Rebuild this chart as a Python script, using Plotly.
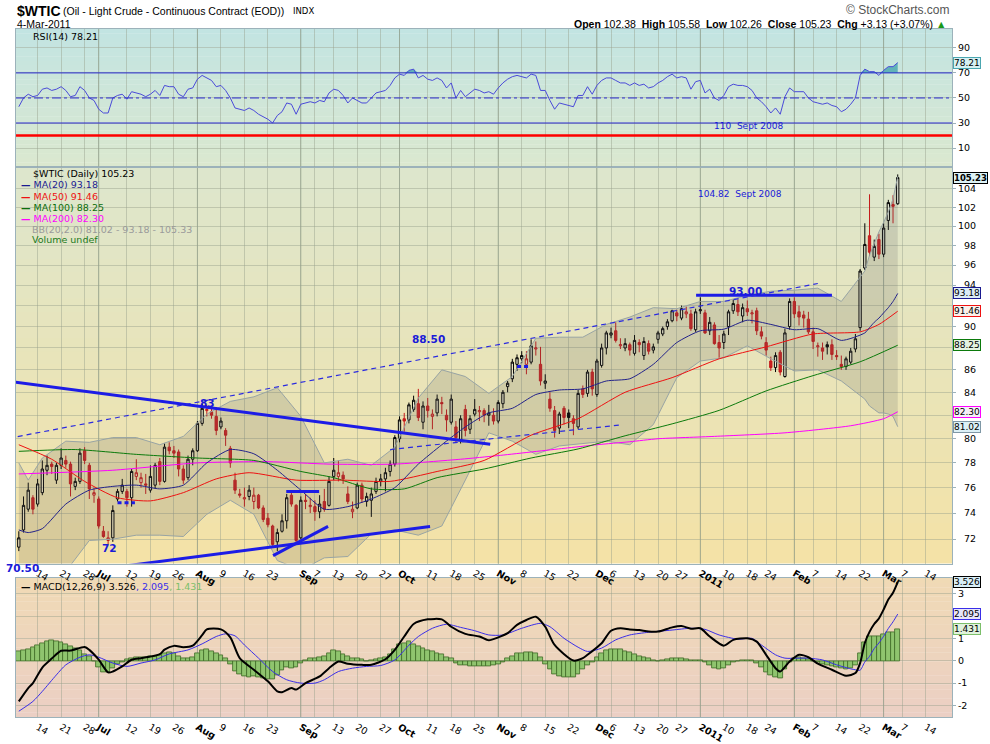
import math

import pandas as pd
import plotly.graph_objects as go

# ---- values -----------------------------------------------------------------
holidays = ["2010-07-05", "2010-09-06", "2010-11-25", "2010-12-24", "2011-01-17", "2011-02-21"]

opn = [71.4, 72.7, 74.3, 75.2, 74.7, 75.6, 77.4, 77.9, 76.6, 77.8,
       78.2, 77.9, 76.1, 76.5, 79.0, 77.8, 75.4, 75.1, 72.6, 71.9,
       72.1, 75.1, 75.7, 75.7, 75.2, 76.9, 76.4, 76.3, 75.8, 76.2,
       78.1, 76.5, 79.3, 79.0, 78.9, 77.5, 76.8, 78.3, 79.0, 81.3,
       82.4, 82.3, 81.9, 81.0, 80.7, 79.2, 76.6, 75.5, 75.1, 75.3,
       74.9, 75.4, 74.4, 73.6, 73.0, 71.8, 72.6, 73.4, 75.4, 74.6,
       72.1, 75.0, 74.5, 74.5, 74.1, 74.9, 74.6, 76.9, 76.9, 77.0,
       75.5, 74.1, 74.4, 76.2, 74.9, 75.0, 75.7, 76.5, 76.7, 77.3,
       77.9, 80.0, 81.7, 81.6, 82.5, 83.0, 81.4, 82.8, 81.9, 82.2,
       83.1, 82.0, 81.4, 81.0, 79.9, 82.5, 80.8, 82.1, 82.3, 82.4,
       82.0, 82.0, 81.5, 83.0, 84.5, 85.2, 86.5, 87.0, 86.5, 86.7,
       87.9, 86.5, 84.8, 83.4, 82.4, 80.9, 82.6, 82.2, 81.7, 81.0,
       84.3, 83.9, 85.8, 83.8, 86.4, 88.0, 89.2, 89.6, 88.2, 88.0,
       88.3, 87.5, 88.5, 87.3, 88.4, 87.8, 88.8, 89.3, 90.0, 90.55,
       91.3, 90.8, 91.2, 91.2, 89.7, 91.5, 91.3, 89.6, 90.15, 88.5,
       88.5, 90.0, 91.5, 92.1, 91.0, 91.7, 91.2, 91.5, 89.5, 88.5,
       86.8, 86.2, 87.6, 85.4, 90.0, 92.4, 91.4, 91.1, 90.7, 89.5,
       88.1, 88.0, 88.3, 88.3, 87.3, 86.5, 86.3, 86.7, 87.9, 89.9,
       95.7, 99.0, 96.8, 98.6, 97.1, 100.6, 102.3, 102.38]
high = [72.6, 75.3, 76.4, 75.4, 76.7, 78.2, 78.6, 78.1, 78.0, 79.2,
        78.6, 78.1, 76.8, 79.2, 79.3, 78.0, 76.0, 75.3, 73.0, 72.6,
        74.6, 75.9, 76.7, 75.9, 77.5, 78.3, 77.2, 77.1, 77.8, 78.0,
        78.4, 79.6, 79.7, 79.4, 79.1, 77.8, 78.6, 79.2, 81.5, 83.0,
        82.9, 82.6, 82.7, 81.8, 80.9, 79.4, 77.2, 75.9, 76.0, 76.2,
        76.0, 75.5, 74.6, 74.0, 73.1, 72.8, 73.9, 75.5, 75.6, 74.7,
        75.3, 75.5, 75.2, 75.0, 75.4, 75.9, 76.9, 78.4, 78.2, 77.3,
        76.1, 74.9, 76.4, 76.4, 75.6, 76.0, 76.8, 77.1, 77.6, 78.2,
        80.3, 81.9, 82.2, 83.1, 83.7, 84.3, 83.2, 83.5, 82.5, 83.8,
        83.6, 82.5, 83.8, 81.5, 82.0, 82.9, 82.0, 83.4, 82.8, 82.6,
        82.9, 82.6, 83.3, 84.2, 85.0, 87.0, 87.4, 87.7, 87.7, 88.8,
        88.6, 88.1, 85.6, 84.0, 82.8, 82.3, 82.8, 82.5, 82.0, 84.2,
        84.6, 86.0, 86.1, 87.0, 88.4, 89.6, 89.9, 90.4, 88.9, 88.9,
        88.5, 89.2, 88.8, 89.0, 88.7, 88.4, 89.6, 90.0, 90.7, 91.6,
        91.6, 92.0, 91.9, 91.6, 91.7, 92.8, 91.6, 90.9, 90.4, 89.2,
        89.6, 91.6, 92.6, 92.6, 92.2, 92.5, 91.6, 91.8, 90.0, 89.0,
        87.2, 87.6, 87.8, 89.8, 92.7, 92.8, 92.0, 91.5, 91.4, 89.9,
        88.5, 88.5, 88.6, 88.8, 87.8, 87.3, 87.2, 88.0, 89.3, 95.6,
        100.3, 103.4, 98.6, 99.2, 100.3, 102.8, 103.3, 105.58]
low = [71.1, 72.5, 74.1, 73.9, 74.5, 75.4, 77.0, 77.1, 76.3, 77.5,
       77.6, 75.3, 75.8, 76.3, 77.9, 75.1, 74.8, 72.8, 72.1, 71.6,
       71.8, 74.9, 75.5, 74.5, 74.5, 76.6, 76.0, 75.5, 75.6, 75.9,
       76.2, 76.4, 78.7, 78.4, 76.9, 76.3, 76.6, 77.8, 78.9, 81.1,
       81.9, 81.7, 80.3, 80.8, 79.4, 77.6, 75.5, 75.2, 74.5, 75.0,
       74.3, 74.3, 73.3, 72.9, 71.5, 71.1, 72.5, 72.8, 74.5, 71.6,
       72.0, 74.3, 74.0, 73.4, 73.6, 74.1, 74.5, 76.6, 76.5, 76.3,
       74.7, 73.6, 74.3, 74.8, 74.5, 73.7, 75.5, 76.1, 75.7, 76.9,
       77.7, 79.7, 80.6, 81.3, 82.3, 81.5, 80.8, 81.8, 80.8, 81.9,
       82.1, 80.6, 81.2, 79.7, 79.6, 80.2, 80.4, 81.9, 81.5, 81.4,
       81.1, 81.2, 81.3, 82.6, 84.0, 84.9, 85.9, 86.6, 85.6, 86.5,
       87.3, 84.6, 84.3, 82.3, 80.1, 80.4, 81.2, 80.9, 80.3, 80.8,
       83.5, 83.6, 83.7, 83.6, 86.2, 87.4, 88.9, 88.5, 87.9, 87.7,
       87.3, 87.3, 87.6, 86.9, 87.4, 87.5, 88.4, 89.1, 89.7, 90.4,
       90.5, 90.6, 90.8, 89.6, 89.5, 91.2, 89.3, 89.2, 88.3, 87.1,
       87.9, 89.2, 91.2, 91.0, 90.4, 91.0, 90.3, 89.2, 88.8, 87.3,
       85.9, 85.8, 85.5, 85.3, 89.7, 90.8, 90.1, 89.9, 89.3, 87.9,
       87.2, 86.9, 87.4, 86.9, 86.9, 86.0, 86.0, 86.5, 87.6, 89.6,
       95.5, 96.9, 96.4, 96.6, 96.8, 99.6, 100.3, 102.26]
close = [72.1, 74.6, 75.8, 74.3, 76.3, 77.5, 77.8, 77.7, 77.8, 78.4,
         77.9, 76.3, 76.5, 78.8, 78.2, 75.9, 75.6, 73.0, 72.2, 72.1,
         74.2, 75.7, 76.2, 75.2, 77.3, 77.2, 76.8, 76.2, 76.9, 77.8,
         76.5, 79.3, 79.0, 78.8, 77.5, 76.6, 78.3, 79.0, 81.3, 82.6,
         82.5, 82.0, 80.7, 81.5, 80.3, 78.0, 75.8, 75.4, 75.2, 75.8,
         75.4, 74.4, 73.5, 73.1, 71.6, 72.5, 73.4, 75.2, 74.7, 71.9,
         75.0, 74.9, 74.6, 74.1, 74.7, 74.3, 76.5, 77.4, 77.2, 76.7,
         74.9, 74.3, 76.2, 75.1, 75.3, 75.5, 76.5, 76.7, 77.2, 77.9,
         80.1, 81.6, 81.5, 82.9, 83.3, 81.8, 82.8, 82.4, 82.1, 83.4,
         83.0, 81.6, 83.4, 80.1, 81.7, 80.7, 81.7, 82.5, 82.4, 82.0,
         82.2, 81.5, 83.1, 84.0, 84.8, 86.7, 87.1, 87.3, 87.0, 88.2,
         88.0, 85.0, 85.0, 82.6, 80.7, 82.1, 81.8, 81.8, 81.3, 83.9,
         83.8, 85.8, 84.3, 86.8, 88.0, 89.4, 89.4, 88.7, 88.3, 88.4,
         87.8, 88.7, 88.3, 88.6, 87.7, 88.1, 89.4, 89.8, 90.45, 91.5,
         91.0, 91.7, 91.4, 89.8, 91.4, 91.6, 89.4, 90.4, 88.4, 88.0,
         89.3, 91.4, 92.2, 91.4, 91.8, 91.4, 91.3, 89.6, 89.1, 87.8,
         86.2, 87.3, 85.8, 89.4, 92.4, 91.2, 90.9, 90.8, 89.5, 88.6,
         88.2, 87.7, 88.1, 87.4, 87.2, 86.3, 87.0, 87.7, 88.85, 95.4,
         98.1, 97.3, 97.9, 97.1, 99.8, 102.5, 102.1, 105.23]

# moving averages / Bollinger bands, sampled along the chart (day index -> value)
bb_i = [0, 2, 5, 10, 15, 20, 25, 30, 35, 40, 45, 50, 55, 60, 65, 70, 75, 80, 85, 90, 95, 100,
        105, 110, 115, 120, 125, 130, 135, 140, 145, 150, 155, 160, 165, 170, 175, 180, 181,
        182, 183, 184, 185, 186, 187]
ma20 = [72.7, 72.5, 72.8, 74.7, 75.8, 76.1, 76.2, 75.9, 76.2, 78.0, 79.1, 78.75, 77.4, 75.8,
        74.3, 74.5, 75.1, 76.0, 77.9, 79.5, 81.0, 82.2, 82.6, 83.8, 84.2, 84.3, 85.0, 85.2,
        86.5, 88.5, 89.6, 89.75, 90.6, 90.2, 89.7, 89.8, 88.7, 89.4, 89.9, 90.4, 90.8, 91.3,
        91.8, 92.4, 93.18]
bb_up = [78.0, 76.6, 78.4, 79.8, 79.7, 80.1, 80.1, 79.5, 80.2, 82.1, 83.2, 83.6, 84.4, 81.9,
         78.0, 78.3, 77.8, 79.3, 83.5, 86.0, 85.4, 83.9, 85.4, 88.9, 89.0, 89.0, 90.2, 90.9,
         91.8, 91.7, 92.4, 92.4, 93.0, 93.4, 93.5, 93.7, 92.4, 95.4, 97.0, 98.3, 99.4, 100.4,
         101.5, 102.9, 105.33]
bb_lo = [67.4, 68.4, 67.2, 69.6, 71.9, 72.0, 72.3, 72.3, 72.2, 73.9, 75.0, 73.9, 70.4, 69.7,
         70.6, 70.7, 72.4, 72.7, 72.3, 73.0, 76.6, 80.5, 79.8, 78.7, 79.4, 79.6, 79.8, 79.5,
         81.2, 85.3, 86.8, 87.1, 88.2, 87.0, 85.9, 86.0, 85.0, 83.4, 82.8, 82.5, 82.2, 82.2,
         82.1, 81.9, 81.02]
ma50_i = [0, 7, 14, 21, 28, 35, 42, 49, 59, 69, 79, 89, 99, 109, 119, 129, 139, 149, 159, 169,
          179, 183, 187]
ma50 = [79.5, 78.3, 76.5, 75.2, 74.95, 75.6, 76.7, 77.2, 76.6, 76.6, 76.5, 77.3, 78.2, 80.3,
        81.7, 84.0, 85.3, 87.0, 88.1, 89.3, 89.5, 90.2, 91.46]
ma100_i = [0, 12, 25, 38, 50, 60, 67, 75, 82, 89, 99, 109, 119, 129, 139, 149, 159, 169, 179, 187]
ma100 = [78.95, 79.1, 78.7, 78.4, 78.2, 77.3, 76.8, 75.9, 75.9, 76.8, 77.5, 78.4, 79.15, 80.25,
         81.26, 82.42, 84.12, 85.48, 86.73, 88.25]
ma200_i = [0, 20, 38, 53, 66, 80, 94, 102, 116, 123, 130, 136, 148, 163, 177, 184, 187]
ma200 = [77.1, 77.4, 78.0, 78.1, 77.9, 77.9, 78.3, 78.6, 79.2, 79.5, 79.75, 80.0, 80.2, 80.5,
         81.1, 81.7, 82.3]

rsi = [43, 50, 53, 51, 52, 57, 58, 56, 57, 59,
       56, 51, 52, 59, 56, 50, 48, 41, 38, 38,
       50, 52, 53, 49, 55, 54, 53, 51, 53, 56,
       52, 60, 59, 59, 53, 51, 57, 58, 65, 68,
       66, 64, 59, 60, 56, 50, 42, 41, 40, 42,
       40, 37, 35, 33, 30, 36, 39, 46, 45, 37,
       45, 46, 47, 46, 48, 47, 54, 57, 56, 52,
       46, 50, 48, 46, 46, 50, 54, 55, 56, 60,
       66, 69, 68, 72, 73, 66, 68, 65, 64, 66,
       64, 58, 62, 50, 56, 51, 54, 57, 56, 54,
       55, 53, 58, 62, 65, 67, 68, 67, 66, 69,
       68, 56, 56, 48, 41, 46, 45, 44, 43, 52,
       52, 59, 53, 60, 64, 66, 66, 64, 62, 62,
       60, 62, 60, 61, 58, 59, 62, 64, 67, 69,
       66, 67, 66, 57, 63, 64, 54, 57, 50, 48,
       52, 59, 61, 60, 60, 59, 56, 50, 47, 43,
       38, 42, 37, 51, 58, 55, 55, 55, 50, 47,
       46, 45, 46, 44, 43, 39, 41, 45, 50, 68,
       73, 71, 71, 68, 72, 75, 75, 78.21]

macd_i = [0, 2, 3, 5, 7, 9, 11, 14, 15, 17, 19, 20, 22, 24, 26, 28, 30, 31, 33, 35, 37, 39, 40,
          43, 45, 47, 50, 53, 55, 56, 58, 59, 61, 64, 66, 68, 70, 73, 75, 78, 80, 82, 84, 87, 90,
          91, 92, 95, 98, 100, 102, 104, 106, 108, 110, 112, 114, 118, 120, 121, 124, 126, 128,
          130, 132, 134, 136, 139, 141, 143, 145, 147, 150, 152, 155, 157, 159, 161, 162, 164,
          166, 168, 170, 173, 176, 178, 179, 180, 181, 182, 183, 184, 185, 186, 187]
macd = [-1.82, -1.22, -1.0, -0.3, 0.1, 0.45, 0.46, 0.62, 0.49, 0.05, -0.52, -0.48, -0.25, 0.05,
        0.12, 0.19, 0.3, 0.5, 0.67, 0.61, 0.68, 1.15, 1.41, 1.41, 1.05, 0.12, -0.4, -0.92, -1.37,
        -1.41, -1.22, -1.29, -1.0, -0.7, -0.33, -0.03, -0.13, -0.18, -0.18, 0.07, 0.49, 1.09,
        1.65, 1.86, 1.86, 1.71, 1.53, 1.21, 1.09, 0.92, 1.05, 1.24, 1.61, 1.83, 1.98, 1.53, 0.71,
        0.01, 0.12, 0.27, 0.79, 1.35, 1.46, 1.41, 1.38, 1.31, 1.31, 1.50, 1.56, 1.44, 1.46, 1.09,
        0.68, 0.94, 1.01, 0.86, 0.27, -0.33, -0.48, -0.03, 0.27, 0.16, -0.13, -0.40, -0.67,
        -0.55, -0.1, 0.8, 1.3, 1.65, 1.9, 2.3, 2.75, 3.05, 3.526]
sig_i = [0, 3, 5, 8, 10, 13, 15, 17, 20, 23, 26, 29, 32, 36, 39, 42, 44, 46, 48, 51, 54, 57, 60,
         63, 65, 68, 71, 74, 77, 80, 83, 85, 88, 91, 94, 97, 100, 103, 107, 111, 113, 116, 119,
         121, 124, 127, 130, 134, 139, 143, 146, 149, 153, 156, 158, 161, 163, 166, 168, 171,
         174, 177, 178, 179, 180, 181, 182, 183, 184, 185, 186, 187]
signal = [-2.26, -1.82, -1.37, -0.63, -0.18, 0.16, 0.27, 0.16, -0.1, -0.25, -0.1, 0.04, 0.31,
          0.49, 0.76, 1.09, 1.21, 1.12, 0.71, 0.12, -0.48, -0.85, -1.0, -1.0, -0.85, -0.48, -0.33,
          -0.25, -0.21, 0.04, 0.7, 1.09, 1.46, 1.64, 1.5, 1.35, 1.16, 1.16, 1.46, 1.68, 1.53,
          1.01, 0.61, 0.42, 0.57, 0.94, 1.16, 1.28, 1.38, 1.46, 1.41, 1.16, 0.97, 1.01, 0.71,
          0.27, 0.12, 0.12, 0.12, 0.04, -0.18, -0.36, -0.40, -0.42, -0.05, 0.2, 0.55, 0.8, 1.1,
          1.45, 1.75, 2.095]
hist = [0.42, 0.45, 0.5, 0.6, 0.68, 0.8, 0.88, 0.9, 0.88, 0.85,
        0.75, 0.64, 0.55, 0.45, 0.3, 0.18, 0.0, -0.3, -0.52, -0.5,
        -0.35, -0.15, -0.05, 0.05, 0.12, 0.15, 0.15, 0.17, 0.18, 0.2,
        0.25, 0.32, 0.36, 0.35, 0.22, 0.12, 0.12, 0.15, 0.35, 0.48,
        0.5, 0.42, 0.32, 0.25, 0.1, -0.15, -0.45, -0.62, -0.7, -0.72,
        -0.7, -0.72, -0.78, -0.85, -0.85, -0.65, -0.42, -0.3, -0.32, -0.28,
        -0.12, 0.02, 0.1, 0.12, 0.15, 0.22, 0.35, 0.45, 0.42, 0.3,
        0.18, 0.12, 0.1, 0.05, 0.0, 0.02, 0.08, 0.12, 0.15, 0.3,
        0.5, 0.72, 0.8, 0.86, 0.75, 0.64, 0.55, 0.48, 0.42, 0.35,
        0.28, 0.15, 0.12, -0.12, -0.2, -0.22, -0.25, -0.25, -0.25, -0.26,
        -0.25, -0.22, -0.15, -0.05, 0.1, 0.22, 0.32, 0.35, 0.36, 0.36,
        0.35, 0.15, -0.15, -0.4, -0.6, -0.7, -0.75, -0.76, -0.74, -0.6,
        -0.4, -0.22, -0.05, 0.15, 0.32, 0.45, 0.5, 0.52, 0.5, 0.44,
        0.36, 0.28, 0.22, 0.16, 0.1, 0.04, 0.0, 0.02, 0.08, 0.12,
        0.12, 0.1, 0.06, 0.02, 0.02, 0.03, -0.08, -0.2, -0.32, -0.4,
        -0.32, -0.18, -0.08, 0.0, 0.03, 0.04, 0.02, -0.1, -0.3, -0.5,
        -0.65, -0.75, -0.78, -0.4, -0.05, 0.12, 0.15, 0.12, 0.05, -0.02,
        -0.08, -0.15, -0.2, -0.25, -0.3, -0.35, -0.38, -0.35, -0.2, 0.32,
        0.85, 1.1, 1.1, 1.1, 1.2, 1.3, 1.3, 1.431]

# trend lines drawn on the chart: (day index pair, price pair)
trend_thick = [([-4.0, 100.3], [85.07, 79.54]),
               ([-4.0, 87.5], [68.82, 72.97]),
               ([54.1, 65.8], [70.76, 72.97]),
               ([56.9, 63.9], [75.7, 75.7]),
               ([144.1, 173.0], [93.0, 93.0])]
trend_thick_dash = [([21.0, 24.7], [74.8, 74.8]),
                    ([106.0, 108.8], [86.3, 86.3])]
trend_thin_dash = [([-4.0, 170.0], [79.9, 94.16]),
                   ([79.0, 128.3], [79.1, 81.18])]
red_levels = [88.5, 104.82]

tick_dates = ["2010-06-14", "2010-06-21", "2010-06-28", "2010-07-01", "2010-07-12", "2010-07-19",
              "2010-07-26", "2010-08-02", "2010-08-09", "2010-08-16", "2010-08-23", "2010-09-01",
              "2010-09-07", "2010-09-13", "2010-09-20", "2010-09-27", "2010-10-01", "2010-10-11",
              "2010-10-18", "2010-10-25", "2010-11-01", "2010-11-08", "2010-11-15", "2010-11-22",
              "2010-12-01", "2010-12-06", "2010-12-13", "2010-12-20", "2010-12-27", "2011-01-03",
              "2011-01-10", "2011-01-18", "2011-01-24", "2011-02-01", "2011-02-07", "2011-02-14",
              "2011-02-22", "2011-03-01", "2011-03-07", "2011-03-14"]
tick_text = ["14", "21", "28", "Jul", "12", "19", "26", "Aug", "9", "16", "23", "Sep", "7", "13",
             "20", "27", "Oct", "11", "18", "25", "Nov", "8", "15", "22", "Dec", "6", "13", "20",
             "27", "2011", "10", "18", "24", "Feb", "7", "14", "22", "Mar", "7", "14"]
price_ticks = list(range(72, 106, 2))
price_hidden = [82, 88, 92]      # labels covered by the value tags
macd_ticks = [-2, -1, 0, 1, 2, 3]
macd_hidden = [2]

# ---- layout helpers ----------------------------------------------------------
FONT = "DejaVu Sans"
days = pd.bdate_range("2010-06-08", "2011-03-18")
days = days[~days.isin(pd.to_datetime(holidays))]
pos = {d: i for i, d in enumerate(days)}
n = len(close)
idx = list(range(n))
tick_pos = [pos[pd.Timestamp(d)] for d in tick_dates]
is_month = [not t.isdigit() or t == "2011" for t in tick_text]
tick_lbl = [f"<b>{t}</b>" if m else t for t, m in zip(tick_text, is_month)]
X_MIN, X_MAX = -0.6, 198.55
FW, FH = 990, 744


def px(x):
    return x / FW


def py(y):
    return 1 - y / FH


XD = [px(16), px(952)]
RSI_D = [py(170), py(29.5)]
PRICE_D = [py(572), py(170)]
MACD_D = [py(728), py(587)]

fig = go.Figure()


def gradient(xr, yr, top, bottom, steps=30):
    for k in range(steps):
        t = (k + 0.5) / steps
        c = [round(top[j] + (bottom[j] - top[j]) * t) for j in range(3)]
        fig.add_shape(type="rect", xref=xr, yref=yr, x0=0, x1=1,
                      y0=1 - (k + 1) / steps, y1=1 - k / steps + 0.002,
                      fillcolor=f"rgb({c[0]},{c[1]},{c[2]})", line_width=0, layer="below")


gradient("x3 domain", "y3 domain", (194, 228, 226), (219, 232, 207))
gradient("x2 domain", "y2 domain", (221, 230, 205), (244, 226, 166))
gradient("x domain", "y domain", (240, 218, 181), (235, 207, 196))

# darker month grid lines
for p, m in zip(tick_pos, is_month):
    if m:
        for xr, yr in (("x", "y domain"), ("x2", "y2 domain"), ("x3", "y3 domain")):
            fig.add_shape(type="line", xref=xr, yref=yr, x0=p, x1=p, y0=0, y1=1,
                          line=dict(color="rgba(120,140,120,0.55)", width=1), layer="below")

# ---- price panel -------------------------------------------------------------
fig.add_trace(go.Scatter(x=bb_i, y=bb_lo, mode="lines", xaxis="x2", yaxis="y2",
                         line=dict(color="#98a4a4", width=1), hoverinfo="skip"))
fig.add_trace(go.Scatter(x=bb_i, y=bb_up, mode="lines", xaxis="x2", yaxis="y2", fill="tonexty",
                         fillcolor="rgba(95,95,95,0.18)",
                         line=dict(color="#98a4a4", width=1), hoverinfo="skip"))
for xs, ys, col in ((ma200_i, ma200, "#ff00ff"), (ma100_i, ma100, "#0b7a0b"),
                    (ma50_i, ma50, "#ee1111"), (bb_i, ma20, "#22228a")):
    fig.add_trace(go.Scatter(x=xs, y=ys, mode="lines", xaxis="x2", yaxis="y2",
                             line=dict(color=col, width=1, shape="spline", smoothing=0.6),
                             hoverinfo="skip"))

black_i = [i for i in idx if i == 0 or close[i] >= close[i - 1]]
red_i = [i for i in idx if i > 0 and close[i] < close[i - 1]]
for sel, col, fill in ((black_i, "#000000", "#000000"), (red_i, "#c41a1a", "#cc2222")):
    fig.add_trace(go.Candlestick(
        x=sel, open=[opn[i] for i in sel], high=[high[i] for i in sel],
        low=[low[i] for i in sel], close=[close[i] for i in sel],
        xaxis="x2", yaxis="y2", whiskerwidth=0,
        increasing=dict(line=dict(color=col, width=1), fillcolor="rgba(255,255,255,0.35)"),
        decreasing=dict(line=dict(color=col, width=1), fillcolor=fill),
        hoverinfo="skip"))

for xs, ys in trend_thick:
    fig.add_trace(go.Scatter(x=xs, y=ys, mode="lines", xaxis="x2", yaxis="y2",
                             line=dict(color="#1c1ce6", width=3), hoverinfo="skip"))
for xs, ys in trend_thick_dash:
    fig.add_trace(go.Scatter(x=xs, y=ys, mode="lines", xaxis="x2", yaxis="y2",
                             line=dict(color="#1c1ce6", width=3, dash="4px,3px"), hoverinfo="skip"))
for xs, ys in trend_thin_dash:
    fig.add_trace(go.Scatter(x=xs, y=ys, mode="lines", xaxis="x2", yaxis="y2",
                             line=dict(color="#2a2ae0", width=1.2, dash="5px,4px"), hoverinfo="skip"))

for lv in red_levels:
    fig.add_shape(type="line", xref="x2 domain", yref="y2", x0=0, x1=1,
                  y0=math.log10(lv), y1=math.log10(lv), line=dict(color="#ff0000", width=2.5))
fig.add_shape(type="line", xref="x2", yref="y2", x0=124.7, x1=X_MAX,
              y0=math.log10(88.25), y1=math.log10(88.25), line=dict(color="#0a800a", width=2.5))
fig.add_shape(type="line", xref="x2", yref="y2", x0=idx[-1], x1=X_MAX,
              y0=math.log10(close[-1]), y1=math.log10(close[-1]),
              line=dict(color="#0a800a", width=2.5))

# ---- RSI panel ---------------------------------------------------------------
fig.add_trace(go.Scatter(x=idx, y=[70] * n, mode="lines", xaxis="x3", yaxis="y3",
                         line=dict(width=0), hoverinfo="skip"))
fig.add_trace(go.Scatter(x=idx, y=[max(v, 70) for v in rsi], mode="lines", xaxis="x3",
                         yaxis="y3", fill="tonexty", fillcolor="rgba(70,165,175,0.8)",
                         line=dict(width=0), hoverinfo="skip"))
for lv, dash in ((70, "solid"), (30, "solid"), (50, "dashdot")):
    fig.add_shape(type="line", xref="x3 domain", yref="y3", x0=0, x1=1, y0=lv, y1=lv,
                  line=dict(color="#2a2ad0", width=1, dash=dash))
fig.add_shape(type="line", xref="x3 domain", yref="y3", x0=0, x1=1, y0=20, y1=20,
              line=dict(color="#ff0000", width=2.5))
fig.add_trace(go.Scatter(x=idx, y=rsi, mode="lines", xaxis="x3", yaxis="y3",
                         line=dict(color="#4a4ad8", width=1), hoverinfo="skip"))

# ---- MACD panel --------------------------------------------------------------
fig.add_trace(go.Bar(x=idx, y=hist, width=1, xaxis="x", yaxis="y",
                     marker=dict(color="#8fc46e", line=dict(color="#3d6a26", width=0.8)),
                     hoverinfo="skip"))
fig.add_trace(go.Scatter(x=sig_i, y=signal, mode="lines", xaxis="x", yaxis="y",
                         line=dict(color="#3a2ee8", width=1, shape="spline", smoothing=0.7),
                         hoverinfo="skip"))
fig.add_trace(go.Scatter(x=macd_i, y=macd, mode="lines", xaxis="x", yaxis="y",
                         line=dict(color="#000000", width=2, shape="spline", smoothing=0.7),
                         hoverinfo="skip"))

# ---- axes --------------------------------------------------------------------
BORDER = "#9cb2ba"
GRID = "rgba(150,160,140,0.45)"
tickfont = dict(family=FONT, size=9.5, color="black")
xcommon = dict(range=[X_MIN, X_MAX], tickmode="array", tickvals=tick_pos, ticktext=tick_lbl,
               showgrid=True, gridcolor=GRID, gridwidth=1, showline=True, mirror=True,
               linecolor=BORDER, linewidth=1, ticks="", tickfont=tickfont, zeroline=False,
               rangeslider=dict(visible=False))
ycommon = dict(side="right", showgrid=True, gridcolor=GRID, showline=True, mirror=True,
               linecolor=BORDER, linewidth=1, ticks="outside", ticklen=3, tickcolor=BORDER,
               tickfont=tickfont, zeroline=False, fixedrange=True, tickmode="array")
# price labels are right-aligned in the reference: pad two-digit ones with a figure space
price_lbl = ["" if v in price_hidden else (str(v) if v >= 100 else "\u2007" + str(v))
             for v in price_ticks]
macd_lbl = ["" if v in macd_hidden else str(v) for v in macd_ticks]

fig.update_layout(
    width=FW, height=FH, margin=dict(l=0, r=0, t=0, b=0),
    paper_bgcolor="white", plot_bgcolor="rgba(0,0,0,0)",
    showlegend=False, hovermode=False, bargap=0, barmode="overlay",
    xaxis=dict(domain=XD, anchor="y", **xcommon),
    xaxis2=dict(domain=XD, anchor="y2", matches="x", **xcommon),
    xaxis3=dict(domain=XD, anchor="y3", matches="x", showticklabels=False,
                **{k: v for k, v in xcommon.items() if k != "tickfont"}),
    yaxis=dict(domain=MACD_D, anchor="x", range=[-2.53, 3.7], tickvals=macd_ticks,
               ticktext=macd_lbl, **ycommon),
    yaxis2=dict(domain=PRICE_D, anchor="x2", type="log",
                range=[math.log10(70.18), math.log10(106.35)],
                tickvals=price_ticks, ticktext=price_lbl, **ycommon),
    yaxis3=dict(domain=RSI_D, anchor="x3", range=[-5.5, 105], tickvals=[10, 30, 50, 70, 90],
                ticktext=["10", "30", "50", "70", "90"], **ycommon),
)

# ---- texts -------------------------------------------------------------------


def note(text, x, y, size=9.5, color="black", anchor="left", family=FONT):
    fig.add_annotation(xref="paper", yref="paper", x=px(x), y=py(y), text=text,
                       showarrow=False, xanchor=anchor, yanchor="middle",
                       font=dict(family=family, size=size, color=color))


note("<b>$WTIC</b>", 15, 11, size=14, family="Liberation Sans")
note("(Oil - Light Crude - Continuous Contract (EOD))", 61, 11, size=10.5,
     family="Liberation Sans")
note("INDX", 291, 11, size=8.5)
note("4-Mar-2011", 15, 24, size=10.5, family="Liberation Sans")
note("© StockCharts.com", 952, 10, size=12, color="#555555", anchor="right",
     family="Liberation Sans")
note("<b>Open</b> 102.38  <b>High</b> 105.58  <b>Low</b> 102.26  <b>Close</b> 105.23  "
     "<b>Chg</b> +3.13 (+3.07%) <span style='color:#1a9a1a'>▲</span>",
     948, 24, size=10.5, anchor="right", family="Liberation Sans")

note("RSI(14) 78.21", 31, 37)
note("$WTIC (Daily) 105.23", 31, 176.5)
legend = [("MA(20) 93.18", "#1a1a90", 187.7), ("MA(50) 91.46", "#ee1111", 199),
          ("MA(100) 88.25", "#0b6e0b", 210.2), ("MA(200) 82.30", "#ff00ff", 221.4)]
for txt, col, y in legend:
    note(f"<b>—</b> {txt}", 19, y, color=col)
note("BB(20,2.0) 81.02 - 93.18 - 105.33", 30, 232.8, color="#9a9a9a")
note("Volume undef", 30, 243.5, color="#1a7a1a")
note("<b>—</b> MACD(12,26,9) 3.526<span style='color:#3a2ee8'>, 2.095</span>"
     "<span style='color:#7cbf6a'>, 1.431</span>", 19, 595)

BLUE = "#1a1ad8"
note("<b>70.50</b>", 22, 577, size=10.5, color=BLUE, anchor="center")
fig.add_annotation(xref="x2", yref="y2", x=40.1, y=math.log10(83.05), text="<b>83</b>",
                   showarrow=False, font=dict(family=FONT, size=10.5, color=BLUE))
fig.add_annotation(xref="x2", yref="y2", x=19.2, y=math.log10(71.3), text="<b>72</b>",
                   showarrow=False, font=dict(family=FONT, size=10.5, color=BLUE))
fig.add_annotation(xref="x2", yref="y2", x=87.1, y=math.log10(88.85), text="<b>88.50</b>",
                   showarrow=False, font=dict(family=FONT, size=10.5, color=BLUE))
fig.add_annotation(xref="x2", yref="y2", x=154.7, y=math.log10(93.45), text="<b>93.00</b>",
                   showarrow=False, font=dict(family=FONT, size=10.5, color=BLUE))
fig.add_annotation(xref="x2", yref="y2", x=153.4, y=math.log10(103.43),
                   text="104.82  Sept 2008", showarrow=False,
                   font=dict(family=FONT, size=9, color=BLUE))
fig.add_annotation(xref="x3", yref="y3", x=155.3, y=28, text="110  Sept 2008",
                   showarrow=False, font=dict(family=FONT, size=9, color=BLUE))


def tag(text, yref, y, border, bg, size=9):
    fig.add_annotation(xref="paper", x=px(953), xanchor="left", yref=yref, y=y,
                       text=text, showarrow=False, bordercolor=border, borderwidth=1,
                       borderpad=0, bgcolor=bg, font=dict(family=FONT, size=size, color="black"))


tag("78.21", "y3", rsi[-1], "#4aa6b0", "#d6f0f2")
tag("<b>105.23</b>", "y2", math.log10(close[-1]), "#000000", "#dcf2f6", size=8.5)
tag("93.18", "y2", math.log10(ma20[-1]), "#1a1a90", "#dcecf6")
tag("91.46", "y2", math.log10(ma50[-1]), "#ee1111", "#fbf0ea")
tag("88.25", "y2", math.log10(ma100[-1]), "#0b7a0b", "#e4f2e0")
tag("82.30", "y2", math.log10(ma200[-1]), "#ff00ff", "#f6eef6")
tag("81.02", "y2", math.log10(bb_lo[-1]), "#7f98a6", "#dcf0f6")
tag("3.526", "y", macd[-1], "#000000", "#d8eef6")
tag("2.095", "y", signal[-1], "#3a2ee8", "#e6e6fa")
tag("1.431", "y", hist[-1], "#7cbf6a", "#e0f2dc")

# the page body keeps the browser's default 8px margin; drop it so the figure sits at 0,0
fig.write_html("out.html", config={"displayModeBar": False},
               post_script="document.body.style.margin = '0px';")
